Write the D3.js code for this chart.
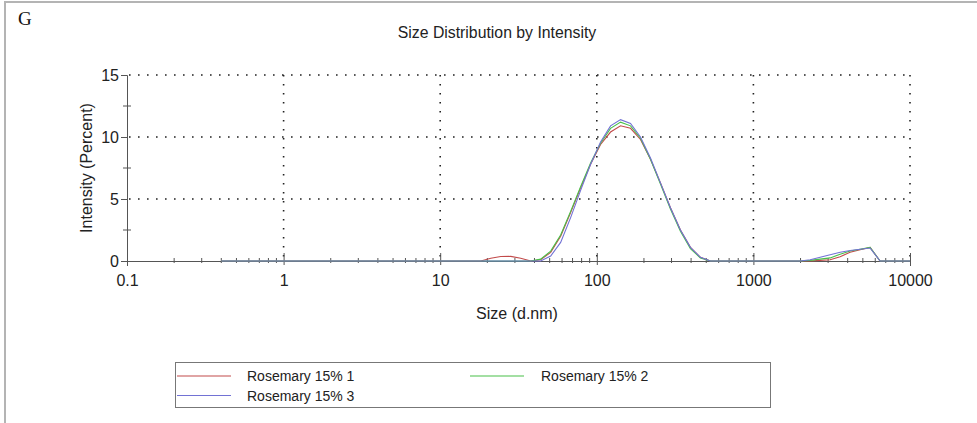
<!DOCTYPE html>
<html>
<head>
<meta charset="utf-8">
<script src="https://cdn.jsdelivr.net/npm/d3@7"></script>
<style>
  body { margin: 0; background: #fff; }
  svg { display: block; }
  text { font-family: "Liberation Sans", Arial, sans-serif; fill: #222; }
</style>
</head>
<body>
<svg id="chart" width="977" height="423"></svg>
<script>
// Size classes (d.nm) of the intensity distribution
const sizes = [
  0.4, 0.4632, 0.5365, 0.6213, 0.7195, 0.8332, 0.9649, 1.117, 1.294, 1.499,
  1.736, 2.010, 2.328, 2.696, 3.122, 3.615, 4.187, 4.849, 5.615, 6.503,
  7.531, 8.721, 10.10, 11.70, 13.54, 15.69, 18.17, 21.04, 24.36, 28.21,
  32.67, 37.84, 43.82, 50.75, 58.77, 68.06, 78.82, 91.28, 105.7, 122.4,
  141.8, 164.2, 190.1, 220.2, 255.0, 295.3, 342.0, 396.1, 458.7, 531.2,
  615.1, 712.4, 825.0, 955.4, 1106, 1281, 1484, 1718, 1990, 2305,
  2669, 3091, 3580, 4145, 4801, 5560, 6439, 7456, 8635, 10000
];

// Intensity (%) per size class, one array per measurement
const rosemary1 = [
  0, 0, 0, 0, 0, 0, 0, 0, 0, 0,
  0, 0, 0, 0, 0, 0, 0, 0, 0, 0,
  0, 0, 0, 0, 0, 0, 0, 0.22, 0.36, 0.37,
  0.22, 0, 0.1, 0.7, 2.0, 3.9, 5.9, 7.8, 9.4, 10.4,
  10.9, 10.7, 9.8, 8.2, 6.3, 4.3, 2.5, 1.1, 0.3, 0,
  0, 0, 0, 0, 0, 0, 0, 0, 0, 0,
  0.05, 0.1, 0.35, 0.7, 0.9, 1.1, 0, 0, 0, 0
];
const rosemary2 = [
  0, 0, 0, 0, 0, 0, 0, 0, 0, 0,
  0, 0, 0, 0, 0, 0, 0, 0, 0, 0,
  0, 0, 0, 0, 0, 0, 0, 0, 0, 0,
  0, 0, 0.15, 0.8, 2.1, 4.0, 6.0, 7.9, 9.5, 10.7,
  11.2, 10.9, 9.9, 8.2, 6.2, 4.2, 2.4, 1.0, 0.25, 0,
  0, 0, 0, 0, 0, 0, 0, 0, 0, 0.05,
  0.15, 0.25, 0.55, 0.8, 0.95, 1.1, 0, 0, 0, 0
];
const rosemary3 = [
  0, 0, 0, 0, 0, 0, 0, 0, 0, 0,
  0, 0, 0, 0, 0, 0, 0, 0, 0, 0,
  0, 0, 0, 0, 0, 0, 0, 0, 0, 0,
  0, 0, 0, 0.4, 1.5, 3.5, 5.7, 7.8, 9.6, 10.9,
  11.4, 11.1, 10.0, 8.3, 6.3, 4.3, 2.5, 1.1, 0.3, 0,
  0, 0, 0, 0, 0, 0, 0, 0, 0, 0.1,
  0.3, 0.5, 0.7, 0.85, 0.95, 1.05, 0, 0, 0, 0
];

const seriesNames = ["Rosemary 15% 1", "Rosemary 15% 2", "Rosemary 15% 3"];
const seriesColors = ["#c24a4a", "#48c048", "#7272d4"];
const seriesValues = [rosemary1, rosemary2, rosemary3];

const xTicks = [0.1, 1, 10, 100, 1000, 10000];
const yTicks = [0, 5, 10, 15];
const yMinorTicks = [2.5, 7.5, 12.5];

const svg = d3.select("#chart");

const x = d3.scaleLog().domain([0.1, 10000]).range([127, 910]);
const y = d3.scaleLinear().domain([0, 15]).range([261, 75]);

// outer frame
svg.append("rect")
  .attr("x", 5).attr("y", 2).attr("width", 1000).attr("height", 500)
  .attr("fill", "none").attr("stroke", "#b4b4b4").attr("stroke-width", 2);

// panel letter
svg.append("text")
  .attr("x", 18).attr("y", 25)
  .style("font-family", "'Liberation Serif', 'Times New Roman', serif")
  .style("font-size", "19px").style("fill", "#111")
  .text("G");

// title
svg.append("text")
  .attr("x", 497).attr("y", 37.5)
  .attr("text-anchor", "middle")
  .style("font-size", "15.8px")
  .text("Size Distribution by Intensity");

// dotted grid
const grid = svg.append("g")
  .attr("stroke", "#222").attr("stroke-width", 1.6)
  .attr("stroke-dasharray", "1.6,7.4");
grid.selectAll("line.h").data(yTicks.filter(d => d > 0)).join("line")
  .attr("class", "h")
  .attr("x1", x(0.1) + 2).attr("x2", x(10000))
  .attr("y1", d => y(d)).attr("y2", d => y(d));
grid.selectAll("line.v").data(xTicks.filter(d => d > 0.1)).join("line")
  .attr("class", "v")
  .attr("x1", d => x(d)).attr("x2", d => x(d))
  .attr("y1", y(15)).attr("y2", y(0) - 2);

// x axis
const xMinor = [];
for (let e = -1; e < 4; e++) {
  for (let m = 2; m <= 9; m++) xMinor.push(m * Math.pow(10, e));
}
const xAxisG = svg.append("g")
  .attr("transform", `translate(0,${y(0)})`)
  .call(d3.axisBottom(x).tickValues(xTicks)
    .tickFormat(d3.format("~g")).tickSize(5).tickPadding(9));
xAxisG.select(".domain").attr("stroke", "#555");
xAxisG.selectAll(".tick line").attr("stroke", "#555").attr("y1", -8).attr("y2", 4);
xAxisG.selectAll(".tick text").style("font-size", "16px").style("fill", "#222");
xAxisG.selectAll("line.minor").data(xMinor).join("line")
  .attr("class", "minor")
  .attr("x1", d => x(d)).attr("x2", d => x(d))
  .attr("y1", -3).attr("y2", 2)
  .attr("stroke", "#555");

// y axis
const yAxisG = svg.append("g")
  .attr("transform", `translate(${x(0.1)},0)`)
  .call(d3.axisLeft(y).tickValues(yTicks).tickSize(6).tickPadding(2));
yAxisG.select(".domain").attr("stroke", "#555");
yAxisG.selectAll(".tick line").attr("stroke", "#555");
yAxisG.selectAll(".tick text").style("font-size", "16px").style("fill", "#222");
yAxisG.selectAll("line.minor").data(yMinorTicks).join("line")
  .attr("class", "minor")
  .attr("x1", -4).attr("x2", 4)
  .attr("y1", d => y(d)).attr("y2", d => y(d))
  .attr("stroke", "#555");

// axis titles
svg.append("text")
  .attr("x", 517).attr("y", 319)
  .attr("text-anchor", "middle")
  .style("font-size", "16px")
  .text("Size (d.nm)");
svg.append("text")
  .attr("transform", "translate(92,168) rotate(-90)")
  .attr("text-anchor", "middle")
  .style("font-size", "16px")
  .text("Intensity (Percent)");

// distribution lines
const line = d3.line()
  .x((d, i) => x(sizes[i]))
  .y(d => y(d));
svg.append("g").selectAll("path").data(seriesValues).join("path")
  .attr("d", d => line(d))
  .attr("fill", "none")
  .attr("stroke", (d, i) => seriesColors[i])
  .attr("stroke-width", 1.1);

// legend
const legend = svg.append("g");
legend.append("rect")
  .attr("x", 175.5).attr("y", 362.5).attr("width", 595).attr("height", 45)
  .attr("fill", "none").attr("stroke", "#777");
const legendPos = [
  { lx: 177, tx: 247, cy: 376 },
  { lx: 470, tx: 541, cy: 376 },
  { lx: 177, tx: 247, cy: 395.5 }
];
seriesNames.forEach((name, i) => {
  const p = legendPos[i];
  legend.append("line")
    .attr("x1", p.lx).attr("x2", p.lx + 54)
    .attr("y1", p.cy).attr("y2", p.cy)
    .attr("stroke", seriesColors[i]).attr("stroke-width", 1.1);
  legend.append("text")
    .attr("x", p.tx).attr("y", p.cy + 5)
    .style("font-size", "14px")
    .text(name);
});
</script>
</body>
</html>
